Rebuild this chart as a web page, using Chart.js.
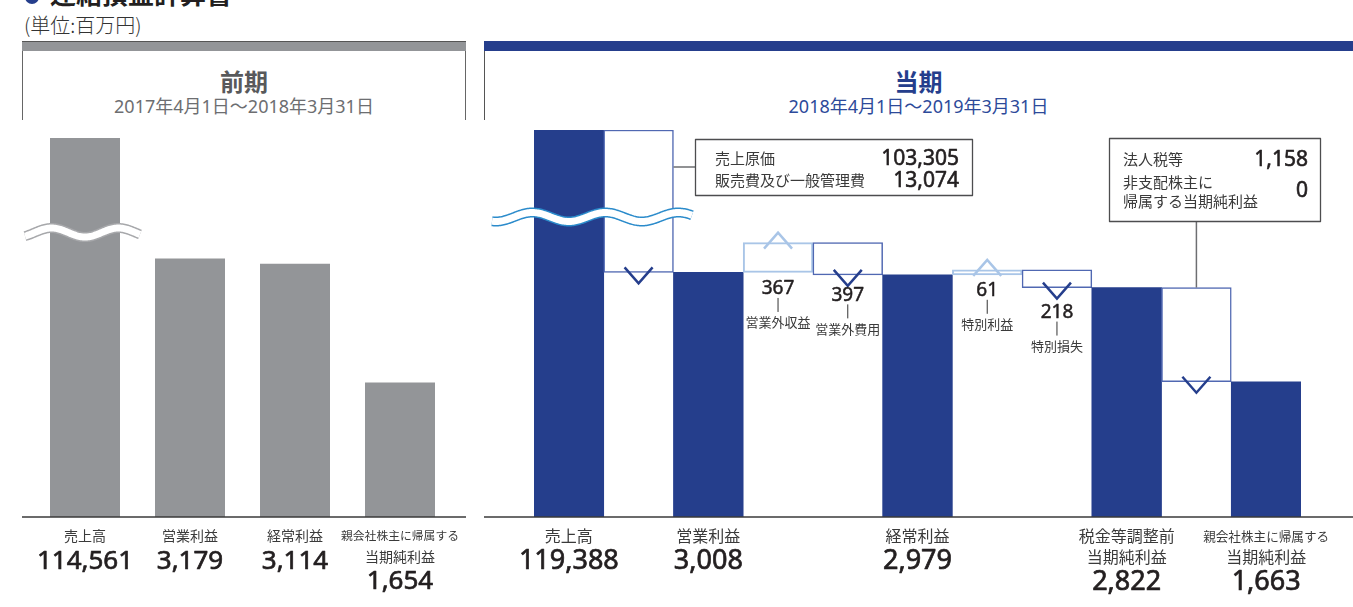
<!DOCTYPE html>
<html lang="ja">
<head>
<meta charset="utf-8">
<title>連結損益計算書</title>
<script src="https://cdn.jsdelivr.net/npm/chart.js@4.4.1/dist/chart.umd.min.js"></script>
<style>
html,body{margin:0;padding:0;background:#fff;}
#wrap{position:relative;width:1353px;height:607px;overflow:hidden;background:#fff;font-family:"Noto Sans","Noto Sans CJK JP",sans-serif;}
.abs{position:absolute;white-space:nowrap;}
#bullet{left:25px;top:-10px;width:14px;height:14px;border-radius:50%;background:#253e8c;}
#title{left:50px;top:-20px;font-size:26px;line-height:26px;font-weight:bold;color:#231f20;font-family:"Noto Sans CJK JP",sans-serif;}
#unit{left:24px;top:15px;font-size:20px;line-height:20px;color:#333;font-family:"Noto Sans CJK JP",sans-serif;font-weight:300;}
#prevBar{left:22px;top:41px;width:444px;height:10px;background:#939598;border-top:1px solid #555;box-sizing:border-box;}
#prevFrame{left:22px;top:41px;width:444px;height:79px;border-left:1px solid #666;border-right:1px solid #666;box-sizing:border-box;}
#currBar{left:484px;top:41px;width:869px;height:10px;background:#253e8c;}
#currFrame{left:484px;top:41px;width:869px;height:79px;border-left:1px solid #555;box-sizing:border-box;}
.ptitle{font-size:24px;line-height:24px;font-weight:bold;text-align:center;font-family:"Noto Sans CJK JP",sans-serif;}
.pdate{font-size:18px;line-height:18px;text-align:center;}
canvas{position:absolute;}
</style>
</head>
<body>
<div id="wrap">
  <div id="bullet" class="abs"></div>
  <div id="title" class="abs">連結損益計算書</div>
  <div id="unit" class="abs">(単位:百万円)</div>

  <div id="prevFrame" class="abs"></div>
  <div id="prevBar" class="abs"></div>
  <div class="abs ptitle" style="left:22px;width:444px;top:69px;color:#58595b;">前期</div>
  <div class="abs pdate" style="left:22px;width:444px;top:97px;color:#6d6e71;">2017年4月1日～2018年3月31日</div>

  <div id="currFrame" class="abs"></div>
  <div id="currBar" class="abs"></div>
  <div class="abs ptitle" style="left:484px;width:869px;top:69px;color:#253e8c;">当期</div>
  <div class="abs pdate" style="left:484px;width:869px;top:97px;color:#2d4a9a;">2018年4月1日～2019年3月31日</div>

  <canvas id="prev" width="444" height="497" style="left:22px;top:110px;"></canvas>
  <canvas id="curr" width="869" height="497" style="left:484px;top:110px;"></canvas>
</div>
<script>
// ---------------- data ----------------
const prevCategories = ['売上高', '営業利益', '経常利益', '親会社株主に帰属する当期純利益'];
const prevLabelLines = [['売上高'], ['営業利益'], ['経常利益'], ['親会社株主に帰属する', '当期純利益']];
const prevValues = [114561, 3179, 3114, 1654];

const currCategories = ['売上高', '売上原価・販管費', '営業利益', '営業外収益', '営業外費用', '経常利益',
  '特別利益', '特別損失', '税金等調整前当期純利益', '法人税等', '親会社株主に帰属する当期純利益'];
const currKinds = ['total', 'down', 'total', 'up', 'down', 'total', 'up', 'down', 'total', 'down', 'total'];
const currValues = [119388, 116379, 3008, 367, 397, 2979, 61, 218, 2822, 1158, 1663];
const currLabelLines = [['売上高'], null, ['営業利益'], null, null, ['経常利益'], null, null,
  ['税金等調整前', '当期純利益'], null, ['親会社株主に帰属する', '当期純利益']];
const currInnerLabels = [null, null, null, '営業外収益', '営業外費用', null, '特別利益', '特別損失', null, null, null];

const callout1Items = ['売上原価', '販売費及び一般管理費'];
const callout1Values = [103305, 13074];
const callout2Items = ['法人税等', ['非支配株主に', '帰属する当期純利益']];
const callout2Values = [1158, 0];

// axis limits (tops of the broken bars)
const PREV_MAX = 4662;
const CURR_MAX = 4760;

// ---------------- styles ----------------
const NAVY = '#253e8c';
const GREY = '#939598';
const LIGHT = '#a9c5e7';
const MID = '#5068b2';
const FONT = '"Noto Sans", "Noto Sans CJK JP", sans-serif';
const fnt = (s, w) => (w ? w + ' ' : '') + s + 'px ' + FONT;
const fmt = v => v.toLocaleString('en-US');

function drawText(ctx, str, x, cy, size, color, align, heavy) {
  const digits = /^[0-9,]+$/.test(str);
  ctx.font = fnt(size);
  ctx.fillStyle = color;
  ctx.textAlign = align || 'center';
  ctx.textBaseline = 'alphabetic';
  const by = cy + (digits ? 0.357 : 0.38) * size;
  ctx.fillText(str, x, by);
  if (heavy) {
    ctx.lineWidth = heavy; ctx.strokeStyle = color; ctx.lineJoin = 'round';
    ctx.strokeText(str, x, by);
  }
}

// ---------------- waterfall ranges ----------------
let running = 0;
const currRanges = currValues.map((v, i) => {
  const k = currKinds[i];
  let r;
  if (k === 'total') { r = [0, v]; running = v; }
  else if (k === 'up') { r = [running, running + v]; running += v; }
  else { r = [running - v, running]; running -= v; }
  return r;
});
const currDisplay = currRanges.map(r => [Math.min(r[0], CURR_MAX), Math.min(r[1], CURR_MAX)]);
const prevRanges = prevValues.map(v => [0, v]);
const prevDisplay = prevValues.map(v => Math.min(v, PREV_MAX));

// ---------------- plugin ----------------
const wfPlugin = {
  id: 'wf',
  afterDatasetsDraw(chart, args, o) {
    const ctx = chart.ctx, area = chart.chartArea, ys = chart.scales.y;
    const meta = chart.getDatasetMeta(0);
    const ranges = o.ranges;
    ctx.save();

    // break wave
    const broken = [];
    ranges.forEach((r, i) => { if (r[1] > ys.max) broken.push(i); });
    if (broken.length) {
      const els = broken.map(i => meta.data[i]);
      const x0 = Math.min(...els.map(e => e.x - e.width / 2)) - o.wave.pre;
      const x1 = Math.max(...els.map(e => e.x + e.width / 2)) + o.wave.post;
      const xt = els[0].x, yc = area.top + o.wave.dy;
      ctx.beginPath();
      for (let x = x0; x <= x1; x += 1) {
        const yy = yc + o.wave.amp * Math.cos(2 * Math.PI * (x - xt) / o.wave.period);
        if (x === x0) ctx.moveTo(x, yy); else ctx.lineTo(x, yy);
      }
      ctx.lineCap = 'butt';
      ctx.lineWidth = 10; ctx.strokeStyle = o.wave.color; ctx.stroke();
      ctx.lineWidth = 7; ctx.strokeStyle = '#fff'; ctx.stroke();
    }

    // chevrons
    if (o.kinds) {
      o.kinds.forEach((k, i) => {
        if (k === 'total') return;
        const e = meta.data[i], cx = e.x, r = ranges[i];
        ctx.beginPath();
        if (k === 'up') {
          const t = ys.getPixelForValue(Math.min(r[1], ys.max));
          ctx.moveTo(cx - 14, t + 6); ctx.lineTo(cx, t - 10); ctx.lineTo(cx + 14, t + 6);
          ctx.strokeStyle = LIGHT;
        } else {
          const b = ys.getPixelForValue(r[0]);
          ctx.moveTo(cx - 14, b - 5); ctx.lineTo(cx, b + 11); ctx.lineTo(cx + 14, b - 5);
          ctx.strokeStyle = NAVY;
        }
        ctx.lineWidth = 2.5; ctx.lineJoin = 'miter'; ctx.stroke();
      });
    }

    // baseline
    const y0 = ys.getPixelForValue(0);
    ctx.beginPath();
    ctx.moveTo(0, y0); ctx.lineTo(chart.width, y0);
    ctx.lineWidth = 1.5; ctx.strokeStyle = '#3a3a3a'; ctx.stroke();

    // inner labels (small items)
    if (o.inner) {
      o.inner.forEach((lab, i) => {
        if (!lab) return;
        const e = meta.data[i];
        const b = ys.getPixelForValue(ranges[i][0]);
        const c = b + o.innerOffsets[i];
        drawText(ctx, fmt(o.values[i]), e.x, c, 19, '#231f20', 'center', 0.5);
        ctx.beginPath();
        ctx.moveTo(e.x, c + 10.5); ctx.lineTo(e.x, c + 24.5);
        ctx.lineWidth = 1; ctx.strokeStyle = '#333'; ctx.stroke();
        drawText(ctx, lab, e.x, c + 35, 13, '#3a3a3a');
      });
    }

    // bottom category labels
    o.labelLines.forEach((lines, i) => {
      if (!lines) return;
      const x = meta.data[i].x, base = area.bottom;
      const size = s => (s.length >= 8 ? o.smallSize : o.labelSize);
      if (lines.length === 1) {
        drawText(ctx, lines[0], x, base + 18.5, size(lines[0]), '#3a3a3a');
        drawText(ctx, fmt(o.values[i]), x, base + 42.5, o.numSize, '#231f20', 'center', 0.7);
      } else {
        drawText(ctx, lines[0], x, base + 19, size(lines[0]), '#3a3a3a');
        drawText(ctx, lines[1], x, base + 39.5, size(lines[1]), '#3a3a3a');
        drawText(ctx, fmt(o.values[i]), x, base + 63, o.numSize, '#231f20', 'center', 0.7);
      }
    });

    // callouts
    if (o.callouts) {
      o.callouts.forEach(c => {
        const e = meta.data[c.index];
        ctx.lineWidth = 1.5; ctx.strokeStyle = '#6d6e71';
        ctx.beginPath();
        if (c.side === 'left') {
          const yy = c.box[1] + c.box[3] / 2;
          ctx.moveTo(e.x + e.width / 2, yy); ctx.lineTo(c.box[0], yy);
        } else {
          const top = ys.getPixelForValue(Math.min(ranges[c.index][1], ys.max));
          ctx.moveTo(e.x, c.box[1] + c.box[3]); ctx.lineTo(e.x, top);
        }
        ctx.stroke();
        ctx.fillStyle = '#fff';
        ctx.fillRect(c.box[0], c.box[1], c.box[2], c.box[3]);
        ctx.lineWidth = 1.3; ctx.strokeStyle = '#4d4d4f';
        ctx.strokeRect(c.box[0] + 0.5, c.box[1] + 0.5, c.box[2], c.box[3]);
        c.rows.forEach(row => {
          const lines = Array.isArray(row.label) ? row.label : [row.label];
          lines.forEach((ln, j) => drawText(ctx, ln, c.textX, row.y + j * row.lh, 15, '#3a3a3a', 'left'));
          drawText(ctx, fmt(row.value), c.valueX, row.vy, 21, '#231f20', 'right', 0.6);
        });
      });
    }
    ctx.restore();
  }
};

// ---------------- charts ----------------
new Chart(document.getElementById('prev'), {
  type: 'bar',
  data: {
    labels: prevCategories,
    datasets: [{
      data: prevDisplay,
      backgroundColor: GREY,
      borderWidth: 0,
      barPercentage: 70 / 105,
      categoryPercentage: 1
    }]
  },
  options: {
    responsive: false, animation: false, events: [],
    layout: { padding: { left: 10.5, right: 13.5, top: 28, bottom: 90 } },
    plugins: {
      legend: { display: false }, tooltip: { enabled: false },
      wf: {
        ranges: prevRanges, kinds: null, values: prevValues, labelLines: prevLabelLines,
        numSize: 26, labelSize: 14, smallSize: 11.8,
        wave: { pre: 25, post: 20, dy: 94.5, period: 67, amp: 4.5, color: '#a7a8ab' }
      }
    },
    scales: { x: { display: false }, y: { display: false, min: 0, max: PREV_MAX } }
  },
  plugins: [wfPlugin]
});

new Chart(document.getElementById('curr'), {
  type: 'bar',
  data: {
    labels: currCategories,
    datasets: [{
      data: currDisplay,
      backgroundColor: currKinds.map(k => k === 'total' ? NAVY : '#fff'),
      borderColor: currKinds.map(k => k === 'up' ? LIGHT : MID),
      borderWidth: currKinds.map(k => k === 'total' ? 0 : (k === 'up' ? 2 : 1.5)),
      borderSkipped: false,
      barPercentage: 1,
      categoryPercentage: 1
    }]
  },
  options: {
    responsive: false, animation: false, events: [],
    layout: { padding: { left: 50, right: 52, top: 20, bottom: 90 } },
    plugins: {
      legend: { display: false }, tooltip: { enabled: false },
      wf: {
        ranges: currRanges, kinds: currKinds, values: currValues, labelLines: currLabelLines,
        inner: currInnerLabels, innerOffsets: [0, 0, 0, 15, 19, 0, 14.5, 23.5, 0, 0, 0],
        numSize: 27, labelSize: 16, smallSize: 12.6,
        wave: { pre: 42, post: 19, dy: 87, period: 73, amp: 4.5, color: '#2b8bcb' },
        callouts: [
          { index: 1, side: 'left', box: [211, 29, 277, 56], textX: 231, valueX: 475,
            rows: [
              { label: callout1Items[0], value: callout1Values[0], y: 48, vy: 48, lh: 0 },
              { label: callout1Items[1], value: callout1Values[1], y: 70, vy: 70, lh: 0 }
            ] },
          { index: 9, side: 'top', box: [625, 28, 211, 83], textX: 639, valueX: 824,
            rows: [
              { label: callout2Items[0], value: callout2Values[0], y: 49, vy: 49, lh: 0 },
              { label: callout2Items[1], value: callout2Values[1], y: 72, vy: 80, lh: 19 }
            ] }
        ]
      }
    },
    scales: { x: { display: false }, y: { display: false, min: 0, max: CURR_MAX } }
  },
  plugins: [wfPlugin]
});
</script>
</body>
</html>
